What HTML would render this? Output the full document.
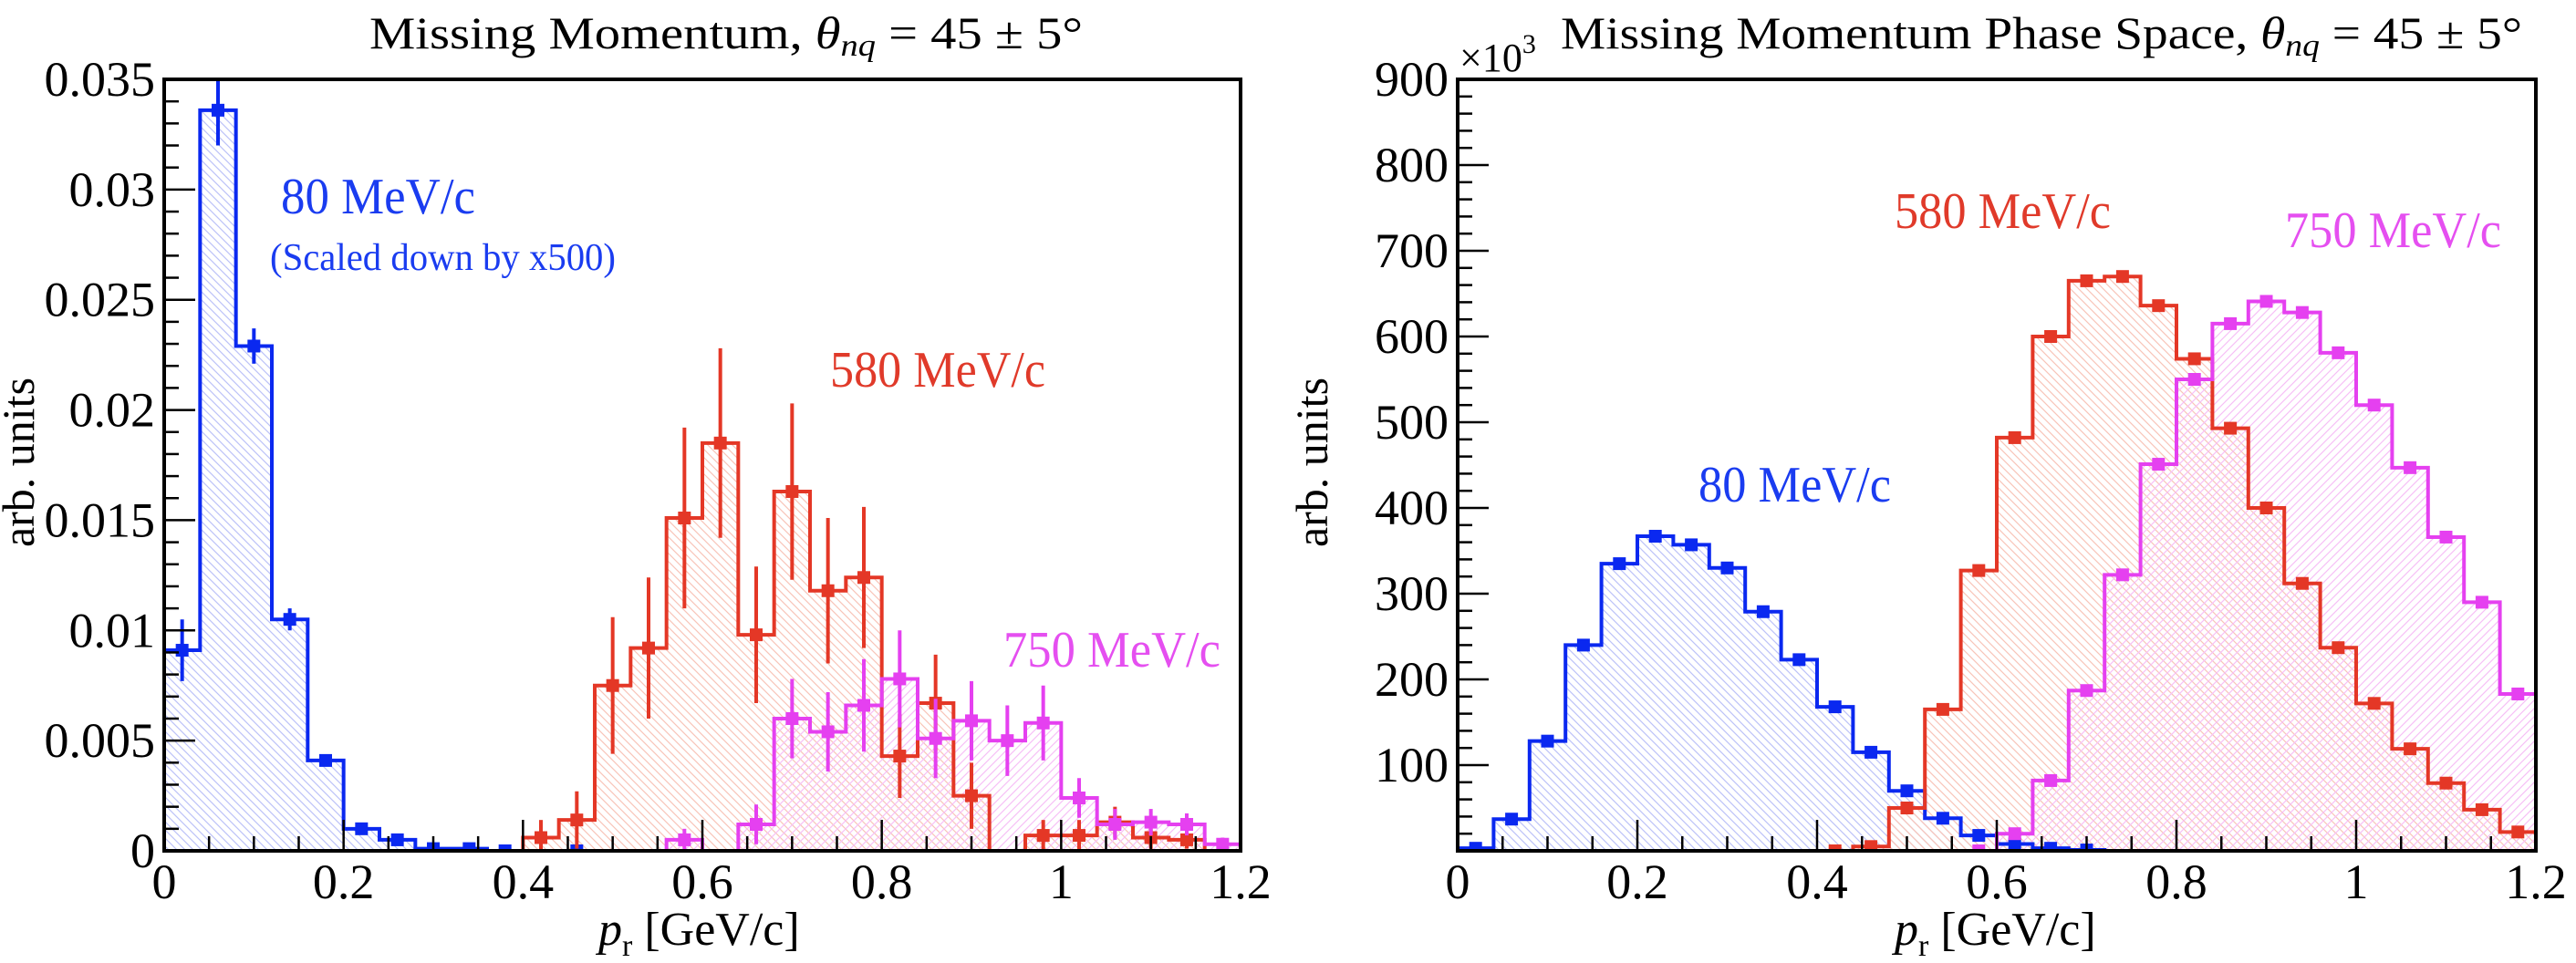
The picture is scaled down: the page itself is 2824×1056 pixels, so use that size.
<!DOCTYPE html>
<html><head><meta charset="utf-8"><style>
html,body{margin:0;padding:0;background:#fff;}
svg{display:block;font-family:"Liberation Serif",serif;}
svg text{font-family:"Liberation Serif",serif;}
</style></head><body>
<svg id="fig" width="2824" height="1056" viewBox="0 0 2824 1056" xmlns="http://www.w3.org/2000/svg">
<defs>
<pattern id="hB" patternUnits="userSpaceOnUse" width="9" height="9"><path d="M-2,-2 L11,11 M-2,7 L2,11 M7,-2 L11,2" stroke="#bcc2f8" stroke-width="1.2"/></pattern>
<pattern id="hR" patternUnits="userSpaceOnUse" width="9" height="9"><path d="M-2,-2 L11,11 M-2,7 L2,11 M7,-2 L11,2" stroke="#f8c4b8" stroke-width="1.2"/></pattern>
<pattern id="hM" patternUnits="userSpaceOnUse" width="9" height="9"><path d="M-2,11 L11,-2 M-2,2 L2,-2 M7,11 L11,7" stroke="#f6c0f6" stroke-width="1.2"/></pattern>
<clipPath id="cL"><rect x="180" y="87" width="1180" height="846"/></clipPath>
<clipPath id="cR"><rect x="1598" y="87" width="1182" height="846"/></clipPath>
</defs>
<g id="left"></g>
<g id="right"></g>

<text x="405" y="53" font-size="50" textLength="782" lengthAdjust="spacingAndGlyphs">Missing Momentum, <tspan font-style="italic">θ</tspan><tspan font-style="italic" font-size="34" dy="8">nq</tspan><tspan dy="-8"> = 45 ± 5°</tspan></text>
<text x="1711" y="53" font-size="50" textLength="1054" lengthAdjust="spacingAndGlyphs">Missing Momentum Phase Space, <tspan font-style="italic">θ</tspan><tspan font-style="italic" font-size="34" dy="8">nq</tspan><tspan dy="-8"> = 45 ± 5°</tspan></text>
<text x="1600" y="78" font-size="44">×10<tspan font-size="30" dy="-20">3</tspan></text>

<text x="308" y="234" font-size="56" fill="#1a3cf0" textLength="213" lengthAdjust="spacingAndGlyphs">80 MeV/c</text>
<text x="296" y="296" font-size="42" fill="#1a3cf0" textLength="379" lengthAdjust="spacingAndGlyphs">(Scaled down by x500)</text>
<text x="910" y="424" font-size="56" fill="#e03a2a" textLength="236" lengthAdjust="spacingAndGlyphs">580 MeV/c</text>
<text x="1100" y="731" font-size="56" fill="#e54ff0" textLength="238" lengthAdjust="spacingAndGlyphs">750 MeV/c</text>
<text x="2077" y="250" font-size="56" fill="#e03a2a" textLength="237" lengthAdjust="spacingAndGlyphs">580 MeV/c</text>
<text x="2505" y="271" font-size="56" fill="#e54ff0" textLength="237" lengthAdjust="spacingAndGlyphs">750 MeV/c</text>
<text x="1862" y="550" font-size="56" fill="#1a3cf0" textLength="211" lengthAdjust="spacingAndGlyphs">80 MeV/c</text>

<text transform="translate(37,507) rotate(-90)" text-anchor="middle" font-size="50">arb. units</text>
<text transform="translate(1455,507) rotate(-90)" text-anchor="middle" font-size="50">arb. units</text>
<text x="656" y="1036" font-size="52"><tspan font-style="italic">p</tspan><tspan font-size="34" dy="12">r</tspan><tspan dy="-12"> [GeV/c]</tspan></text>
<text x="2077" y="1036" font-size="52"><tspan font-style="italic">p</tspan><tspan font-size="34" dy="12">r</tspan><tspan dy="-12"> [GeV/c]</tspan></text>
</svg>
<script>
// ---- data ----
const binCenters = [0.02,0.06,0.10,0.14,0.18,0.22,0.26,0.30,0.34,0.38,0.42,0.46,0.50,0.54,0.58,0.62,0.66,0.70,0.74,0.78,0.82,0.86,0.90,0.94,0.98,1.02,1.06,1.10,1.14,1.18];
const leftBlue = [0.0091,0.0336,0.0229,0.0105,0.0041,0.0010,0.0005,0.0001,0.0001,0,0,0,0,0,0,0,0,0,0,0,0,0,0,0,0,0,0,0,0,0];
const leftBlueErr = [0.0014,0.0016,0.0008,0.0005,0.0002,0.0001,0.0001,0,0,0,0,0,0,0,0,0,0,0,0,0,0,0,0,0,0,0,0,0,0,0];
const leftRed = [0,0,0,0,0,0,0,0,0,0,0.0006,0.0014,0.0075,0.0092,0.0151,0.0185,0.0098,0.0163,0.0118,0.0124,0.0043,0.0067,0.0025,0,0.0007,0.0007,0.0013,0.0006,0.0005,0];
const leftRedErr = [0,0,0,0,0,0,0,0,0,0,0.0008,0.0013,0.0031,0.0032,0.0041,0.0043,0.0031,0.0040,0.0033,0.0032,0.0019,0.0022,0.0015,0,0.0007,0.0007,0.0007,0.0005,0.0004,0];
const leftMag = [0,0,0,0,0,0,0,0,0,0,0,0,0,0,0.0005,0,0.0012,0.0060,0.0054,0.0066,0.0078,0.0051,0.0059,0.0050,0.0058,0.0024,0.0012,0.0013,0.0012,0.0003];
const leftMagErr = [0,0,0,0,0,0,0,0,0,0,0,0,0,0,0.0005,0,0.0009,0.0018,0.0018,0.0021,0.0022,0.0018,0.0018,0.0016,0.0017,0.0009,0.0007,0.0006,0.0005,0.0003];
const rightBlue = [3,37,128,240,335,367,357,330,279,223,168,115,70,38,18,8,3,1,0,0,0,0,0,0,0,0,0,0,0,0];
const rightRed = [0,0,0,0,0,0,0,0,0,0,0,5,50,165,327,482,600,665,670,636,574,493,400,312,237,172,119,79,48,22];
const rightMag = [0,0,0,0,0,0,0,0,0,0,0,0,0,0,0,20,82,187,322,451,550,615,641,628,581,520,447,366,290,183];
const xTickLabels = ["0","0.2","0.4","0.6","0.8","1","1.2"];
const leftYTickLabels = ["0","0.005","0.01","0.015","0.02","0.025","0.03","0.035"];
const rightYTickLabels = ["100","200","300","400","500","600","700","800","900"];

const NS="http://www.w3.org/2000/svg";
function mk(tag,attrs,parent){const e=document.createElementNS(NS,tag);for(const k in attrs)e.setAttribute(k,attrs[k]);parent.appendChild(e);return e;}
const BW=0.04;

function panel(g,X0,X1,Y0,Y1,ymax,clip,series,yLabels,yStep,yMinor,showZero){
  const sx=v=>X0+(v/1.2)*(X1-X0);
  const sy=v=>Y1-(v/ymax)*(Y1-Y0);
  const plot=mk('g',{'clip-path':'url(#'+clip+')'},g);
  
  
  series.forEach(s=>{
    let d='M'+sx(0)+','+sy(0);
    binCenters.forEach((c,i)=>{d+=' L'+sx(c-BW/2)+','+sy(s.vals[i])+' L'+sx(c+BW/2)+','+sy(s.vals[i]);});
    d+=' L'+sx(1.2)+','+sy(0)+' Z';
    const f=mk('path',{d:d,fill:'url(#'+s.hatch+')',stroke:'none'},plot);
    
    
  });
  series.forEach(s=>{
    let d='M'+sx(0)+','+sy(0);
    binCenters.forEach((c,i)=>{d+=' L'+sx(c-BW/2)+','+sy(s.vals[i])+' L'+sx(c+BW/2)+','+sy(s.vals[i]);});
    d+=' L'+sx(1.2)+','+sy(0);
    const l=mk('path',{d:d,fill:'none',stroke:s.color,'stroke-width':4},plot);
    
    
    binCenters.forEach((c,i)=>{
      const v=s.vals[i];
      if(!s.markAll && v<=0 && !(s.zeroMarks&&s.zeroMarks.includes(i))) return;
      if(s.markMax!==undefined && i>s.markMax) return;
      if(s.errs && s.errs[i]>0){
        const e=mk('line',{x1:sx(c),x2:sx(c),y1:sy(v-s.errs[i]),y2:sy(v+s.errs[i]),stroke:s.color,'stroke-width':4},plot);
        
        
      }
      const m=mk('rect',{x:sx(c)-7,y:sy(v)-7,width:14,height:14,fill:s.color},plot);
      
      
    });
  });
  const fr=mk('rect',{x:X0,y:Y0,width:X1-X0,height:Y1-Y0,fill:'none',stroke:'#000','stroke-width':4},g);
  
  
  for(let k=0;k<=24;k++){
    const v=k*0.05,x=sx(v),len=(k%4===0)?34:16;
    const t=mk('line',{x1:x,x2:x,y1:Y1,y2:Y1-len,stroke:'#000','stroke-width':2.5},g);
    
    
  }
  xTickLabels.forEach((lab,i)=>{
    const t=mk('text',{x:sx(i*0.2),y:985,'font-size':54,'text-anchor':'middle'},g);
    t.textContent=lab;
    
    
  });
  const nMin=Math.round(ymax/yMinor);
  for(let k=0;k<=nMin;k++){
    const v=k*yMinor,y=sy(v),major=Math.abs(v/yStep-Math.round(v/yStep))<1e-6;
    const t=mk('line',{x1:X0,x2:X0+(major?34:16),y1:y,y2:y,stroke:'#000','stroke-width':2.5},g);
    
    
  }
  yLabels.forEach((lab,i)=>{
    const v=(showZero?i:i+1)*yStep;
    const t=mk('text',{x:X0-10,y:sy(v)+18,'font-size':54,'text-anchor':'end'},g);
    t.textContent=lab;
    
    
  });
}

panel(document.getElementById('left'),180,1360,87,933,0.035,'cL',[
  {name:'blue-80',vals:leftBlue,errs:leftBlueErr,color:'#0a28f0',hatch:'hB',zeroMarks:[9,11],markMax:11},
  {name:'red-580',vals:leftRed,errs:leftRedErr,color:'#e43726',hatch:'hR'},
  {name:'magenta-750',vals:leftMag,errs:leftMagErr,color:'#e540f0',hatch:'hM'}
],leftYTickLabels,0.005,0.001,true);

panel(document.getElementById('right'),1598,2780,87,933,900,'cR',[
  {name:'blue-80',vals:rightBlue,color:'#0a28f0',hatch:'hB',markMax:17,markAll:true},
  {name:'red-580',vals:rightRed,color:'#e43726',hatch:'hR',zeroMarks:[10]},
  {name:'magenta-750',vals:rightMag,color:'#e540f0',hatch:'hM',zeroMarks:[14]}
],rightYTickLabels,100,20,false);
</script>
</body></html>
